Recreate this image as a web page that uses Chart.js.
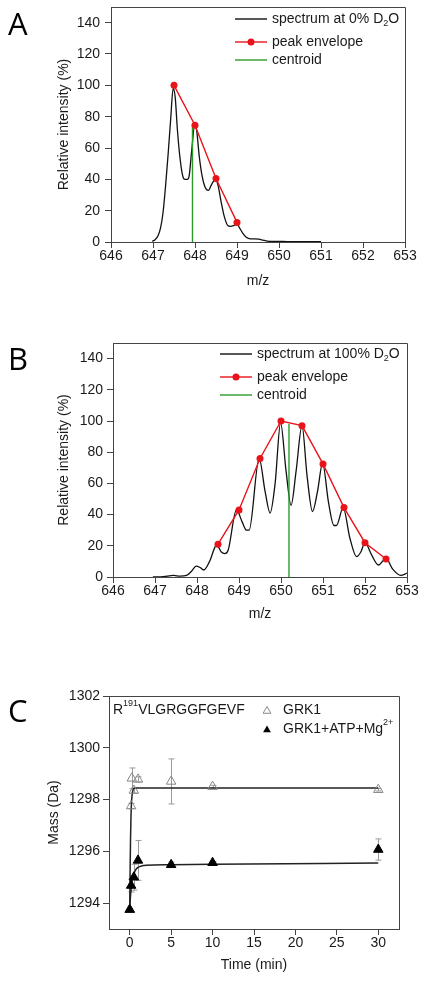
<!DOCTYPE html>
<html>
<head>
<meta charset="utf-8">
<script src="https://cdn.jsdelivr.net/npm/chart.js"></script>
<style>
  html, body { margin: 0; padding: 0; background: #fff; }
  canvas { position: absolute; left: 0; }
</style>
</head>
<body>
<canvas id="chartA" width="431" height="300" style="top:0px"></canvas>
<canvas id="chartB" width="431" height="310" style="top:320px"></canvas>
<canvas id="chartC" width="431" height="334" style="top:650px"></canvas>
<script>
// ---- panel A: spectrum at 0% D2O
var mzA = [646.98, 647.05, 647.12, 647.18, 647.24, 647.3, 647.36, 647.42, 647.48, 647.53, 647.58, 647.65, 647.72, 647.76, 647.82, 647.86, 647.92, 647.99, 648.04, 648.1, 648.17, 648.24, 648.32, 648.4, 648.49, 648.55, 648.62, 648.7, 648.78, 648.84, 648.92, 649.0, 649.06, 649.14, 649.22, 649.32, 649.42, 649.52, 649.62, 649.72, 649.85, 650.0, 650.2, 650.5, 650.8, 651.0];
var intA = [0.5, 1.5, 4, 9, 19, 36, 56, 78, 98, 92, 72, 52, 41, 40, 40, 42, 58, 74, 71, 55, 42, 35, 33, 37, 40, 36, 26, 16, 10.5, 10, 10.5, 11.5, 9, 5.5, 3, 2, 2, 1.8, 1.2, 0.6, 0.4, 0.4, 0.3, 0.3, 0.2, 0.2];
var envMzA = [647.5, 648, 648.5, 649];
var envIntA = [100, 74.5, 40.5, 12.5];
var centroidMzA = 647.94, centroidTopA = 75;

// ---- panel B: spectrum at 100% D2O
var mzB = [646.95, 647.2, 647.44, 647.6, 647.75, 647.88, 647.98, 648.08, 648.16, 648.3, 648.47, 648.58, 648.66, 648.74, 648.94, 649.08, 649.18, 649.24, 649.48, 649.62, 649.74, 649.86, 649.99, 650.12, 650.24, 650.36, 650.5, 650.62, 650.75, 650.87, 650.99, 651.13, 651.26, 651.32, 651.48, 651.64, 651.8, 651.9, 652.0, 652.16, 652.32, 652.5, 652.66, 652.85, 653.0];
var intB = [0, 0.3, 1, 0.5, 1, 4, 7, 6, 4.5, 10, 20.5, 16, 15, 17, 43, 35, 30, 30, 76, 55, 41, 60, 99, 68, 46, 68, 97, 65, 42, 55, 73, 48, 33, 33, 44.5, 25, 13, 16, 22, 14, 7.7, 12, 5, 1, 2.5];
var envMzB = [648.5, 649, 649.5, 650, 650.5, 651, 651.5, 652, 652.5];
var envIntB = [21, 43, 76, 100, 97, 72.5, 44.5, 22, 11.5];
var centroidMzB = 650.19, centroidTopB = 98;

var mzTicks = [646, 647, 648, 649, 650, 651, 652, 653];
var intTicks = [0, 20, 40, 60, 80, 100, 120, 140];

// ---- panel C: deuterium uptake
var timeGRK1 = [0, 0.17, 0.25, 0.5, 1, 5, 10, 30];
var massGRK1 = [1293.75, 1297.75, 1298.82, 1298.35, 1298.78, 1298.7, 1298.5, 1298.38];
var errGRK1 = [0, 0.1, 0.4, 0.1, 0.1, 0.87, 0.05, 0.05];
var timeATP = [0, 0.17, 0.5, 1, 5, 10, 30];
var massATP = [1293.75, 1294.68, 1295.0, 1295.65, 1295.48, 1295.56, 1296.07];
var errATP = [0, 0.25, 0.5, 0.77, 0.1, 0.05, 0.41];
var fitTimeGRK1 = [0, 0.05, 0.1, 0.15, 0.2, 0.3, 0.4, 0.5, 0.7, 1, 2, 5, 10, 30];
var fitMassGRK1 = [1293.75, 1295.3, 1296.5, 1297.3, 1297.8, 1298.2, 1298.38, 1298.43, 1298.45, 1298.45, 1298.45, 1298.45, 1298.45, 1298.45];
var fitTimeATP = [0, 0.1, 0.25, 0.5, 0.75, 1, 1.5, 2, 5, 10, 30];
var fitMassATP = [1293.75, 1294.3, 1294.78, 1295.12, 1295.3, 1295.38, 1295.44, 1295.46, 1295.48, 1295.5, 1295.55];
var timeTicks = [0, 5, 10, 15, 20, 25, 30];
var massTicks = [1294, 1296, 1298, 1300, 1302];

var FONT = '"Liberation Sans", Arial, sans-serif';
var TEXT = '#1a1a1a', AXIS = '#444';

function pts(xs, ys) {
  return xs.map(function (x, i) { return { x: x, y: ys[i] }; });
}

function richText(ctx, parts, x, y) {
  // parts: [text, fontSize, yOffset]
  parts.forEach(function (p) {
    ctx.font = p[1] + 'px ' + FONT;
    ctx.fillText(p[0], x, y + p[2]);
    x += ctx.measureText(p[0]).width;
  });
}

function axis(cfg) {
  // fixed size axes so the plot box lands where the figure has it
  var isX = cfg.pos === 'bottom';
  return {
    type: 'linear', position: cfg.pos, min: cfg.min, max: cfg.max,
    afterBuildTicks: function (s) { s.ticks = cfg.ticks.map(function (v) { return { value: v }; }); },
    afterFit: function (s) {
      if (isX) { s.height = cfg.size; s.paddingLeft = 0; s.paddingRight = 0; }
      else { s.width = cfg.size; s.paddingTop = 0; s.paddingBottom = 0; }
    },
    grid: { display: true, drawOnChartArea: false, drawTicks: true, tickLength: 6, color: AXIS, tickColor: AXIS },
    border: { display: true, color: AXIS, width: 1 },
    ticks: {
      color: TEXT, padding: cfg.pad, font: { family: FONT, size: 14 },
      callback: function (v) { return String(v); }
    },
    title: { display: true, text: cfg.title, color: TEXT, font: { family: FONT, size: 14 }, padding: cfg.titlePad }
  };
}

var framePlugin = {
  id: 'frame',
  afterDraw: function (chart) {
    var a = chart.chartArea, ctx = chart.ctx;
    ctx.save();
    ctx.strokeStyle = AXIS; ctx.lineWidth = 1;
    ctx.beginPath();
    ctx.moveTo(Math.round(a.left) + 0.5, Math.round(a.top) + 0.5);
    ctx.lineTo(Math.round(a.right) + 0.5, Math.round(a.top) + 0.5);
    ctx.lineTo(Math.round(a.right) + 0.5, Math.round(a.bottom) + 0.5);
    ctx.stroke();
    ctx.restore();
  }
};

function spectrumLegend(letter, letterY, pct, lx, rows) {
  return {
    id: 'legend' + letter,
    afterDraw: function (chart) {
      var ctx = chart.ctx;
      ctx.save();
      ctx.fillStyle = '#000';
      ctx.textBaseline = 'alphabetic';
      ctx.font = '31px "Open Sans", sans-serif';
      ctx.fillText(letter, 8, letterY);
      var cols = ['#111', '#e8141a', '#2b9b2b'];
      ctx.textBaseline = 'middle';
      rows.forEach(function (y, i) {
        ctx.strokeStyle = cols[i]; ctx.lineWidth = 1.4;
        ctx.beginPath(); ctx.moveTo(lx, y); ctx.lineTo(lx + 32, y); ctx.stroke();
        if (i === 1) {
          ctx.fillStyle = cols[1];
          ctx.beginPath(); ctx.arc(lx + 16, y, 3.5, 0, Math.PI * 2); ctx.fill();
        }
      });
      ctx.fillStyle = TEXT;
      richText(ctx, [['spectrum at ' + pct + '% D', 14, 0], ['2', 9, 5], ['O', 14, 0]], lx + 37, rows[0]);
      richText(ctx, [['peak envelope', 14, 0]], lx + 37, rows[1]);
      richText(ctx, [['centroid', 14, 0]], lx + 37, rows[2]);
      ctx.restore();
    }
  };
}

function spectrumChart(id, mz, inten, envMz, envInt, cMz, cTop, geo, legendPlugin) {
  return new Chart(document.getElementById(id), {
    type: 'scatter',
    data: {
      datasets: [
        { data: pts(mz, inten), showLine: true, borderColor: '#111', borderWidth: 1.3, pointRadius: 0, cubicInterpolationMode: 'monotone', order: 3 },
        { data: [{ x: cMz, y: 0 }, { x: cMz, y: cTop }], showLine: true, borderColor: '#2b9b2b', borderWidth: 1.4, pointRadius: 0, order: 2 },
        { data: pts(envMz, envInt), showLine: true, borderColor: '#e8141a', borderWidth: 1.4, pointRadius: 3.5, pointBackgroundColor: '#e8141a', pointBorderWidth: 0, order: 1 }
      ]
    },
    options: {
      responsive: false, animation: false, events: [],
      layout: { padding: { top: geo.top, right: geo.right, left: 0, bottom: 0 } },
      plugins: { legend: { display: false }, tooltip: { enabled: false } },
      scales: {
        x: axis({ pos: 'bottom', min: 646, max: 653, ticks: mzTicks, size: geo.xh, pad: 0, title: 'm/z', titlePad: { top: 0, bottom: geo.xtp } }),
        y: axis({ pos: 'left', min: 0, max: 150, ticks: intTicks, size: geo.yw, pad: geo.ypad, title: 'Relative intensity (%)', titlePad: { top: geo.ytp, bottom: 0 } })
      }
    },
    plugins: [framePlugin, legendPlugin]
  });
}

spectrumChart('chartA', mzA, intA, envMzA, envIntA, centroidMzA, centroidTopA,
  { top: 7, right: 26, xh: 58, yw: 111, ypad: 5, xtp: 10, ytp: 56 },
  spectrumLegend('A', 35, '0', 235, [19, 42, 60]));

spectrumChart('chartB', mzB, intB, envMzB, envIntB, centroidMzB, centroidTopB,
  { top: 23, right: 24, xh: 53, yw: 113, ypad: 4, xtp: 7, ytp: 56 },
  spectrumLegend('B', 50, '100', 220, [34, 57, 75]));

// ---- panel C
function triangle(ctx, x, y, r, fill) {
  ctx.beginPath();
  ctx.moveTo(x, y - r);
  ctx.lineTo(x + r * 0.866, y + r * 0.5);
  ctx.lineTo(x - r * 0.866, y + r * 0.5);
  ctx.closePath();
  if (fill) { ctx.fillStyle = '#000'; ctx.fill(); }
  else { ctx.strokeStyle = '#888'; ctx.lineWidth = 1; ctx.stroke(); }
}

var errorBarPlugin = {
  id: 'errorBars',
  beforeDatasetsDraw: function (chart) {
    var xs = chart.scales.x, ys = chart.scales.y, ctx = chart.ctx;
    ctx.save();
    ctx.strokeStyle = '#9a9a9a'; ctx.lineWidth = 1;
    [[timeGRK1, massGRK1, errGRK1], [timeATP, massATP, errATP]].forEach(function (s) {
      s[0].forEach(function (t, i) {
        if (!s[2][i]) return;
        var x = Math.round(xs.getPixelForValue(t)) + 0.5;
        var lo = ys.getPixelForValue(s[1][i] - s[2][i]);
        var hi = ys.getPixelForValue(s[1][i] + s[2][i]);
        ctx.beginPath();
        ctx.moveTo(x, lo); ctx.lineTo(x, hi);
        ctx.moveTo(x - 3, hi); ctx.lineTo(x + 3, hi);
        ctx.moveTo(x - 3, lo); ctx.lineTo(x + 3, lo);
        ctx.stroke();
      });
    });
    ctx.restore();
  }
};

var legendC = {
  id: 'legendC',
  afterDraw: function (chart) {
    var ctx = chart.ctx;
    ctx.save();
    ctx.fillStyle = '#000';
    ctx.font = '31px "Open Sans", sans-serif';
    ctx.fillText('C', 8, 72);
    ctx.fillStyle = TEXT;
    ctx.textBaseline = 'middle';
    richText(ctx, [['R', 14, 0], ['191', 9, -6], ['VLGRGGFGEVF', 14, 0]], 113, 60);
    triangle(ctx, 267, 61, 4.5, false);
    ctx.fillStyle = TEXT;
    richText(ctx, [['GRK1', 14, 0]], 283, 60);
    triangle(ctx, 267, 80, 4.5, true);
    ctx.fillStyle = TEXT;
    richText(ctx, [['GRK1+ATP+Mg', 14, 0], ['2+', 9, -6]], 283, 79);
    ctx.restore();
  }
};

new Chart(document.getElementById('chartC'), {
  type: 'scatter',
  data: {
    datasets: [
      { data: pts(fitTimeGRK1, fitMassGRK1), showLine: true, borderColor: '#222', borderWidth: 1.5, pointRadius: 0, cubicInterpolationMode: 'monotone', order: 4 },
      { data: pts(fitTimeATP, fitMassATP), showLine: true, borderColor: '#222', borderWidth: 1.5, pointRadius: 0, cubicInterpolationMode: 'monotone', order: 3 },
      { label: 'GRK1', data: pts(timeGRK1, massGRK1), pointStyle: 'triangle', pointRadius: 5.5, pointBorderColor: '#888', pointBackgroundColor: 'rgba(255,255,255,0)', pointBorderWidth: 1, order: 2 },
      { label: 'GRK1+ATP+Mg2+', data: pts(timeATP, massATP), pointStyle: 'triangle', pointRadius: 5.5, pointBorderColor: '#000', pointBackgroundColor: '#000', pointBorderWidth: 1, order: 1 }
    ]
  },
  options: {
    responsive: false, animation: false, events: [],
    layout: { padding: { top: 46, right: 32, left: 0, bottom: 0 } },
    plugins: { legend: { display: false }, tooltip: { enabled: false } },
    scales: {
      x: axis({ pos: 'bottom', min: -2.5, max: 32.5, ticks: timeTicks, size: 55, pad: 0, title: 'Time (min)', titlePad: { top: 0, bottom: 10 } }),
      y: axis({ pos: 'left', min: 1293, max: 1302, ticks: massTicks, size: 109, pad: 3, title: 'Mass (Da)', titlePad: { top: 46, bottom: 0 } })
    }
  },
  plugins: [framePlugin, errorBarPlugin, legendC]
});
</script>
</body>
</html>
